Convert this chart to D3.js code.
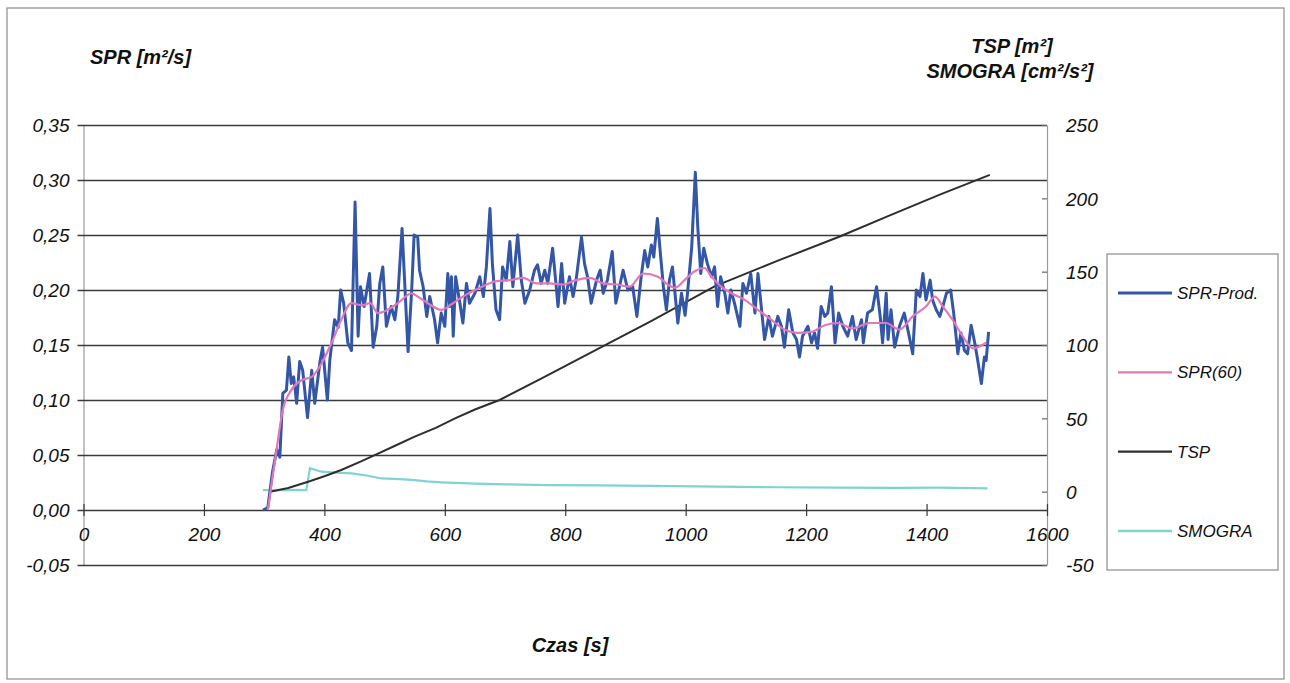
<!DOCTYPE html>
<html>
<head>
<meta charset="utf-8">
<script src="https://cdn.jsdelivr.net/npm/d3@7"></script>
<style>
  body { margin: 0; background: #fff; }
  svg text { font-family: "Liberation Sans", Arial, sans-serif; font-style: italic; fill: #111; }
</style>
</head>
<body>
<div id="chart-area"></div>
<script>
// SPR-Prod. (time [s], value [m2/s])
var sprTime = [298,306,314,321,326,331,337,341,345,349,354,359,364,372,379,384,393,397,405,409,417,423,427,432,439,445,451,456,460,466,475,481,487,492,497,503,511,517,522,529,534,539,545,549,555,558,564,570,575,583,588,594,600,605,608,611,614,618,625,630,636,641,650,658,664,669,675,679,685,691,696,702,708,713,721,727,733,741,749,754,760,766,771,779,784,788,794,799,807,813,818,827,832,837,843,852,858,863,870,878,884,890,896,904,912,919,926,932,937,943,947,953,958,963,968,973,978,987,993,999,1003,1010,1016,1020,1025,1030,1036,1043,1048,1053,1058,1065,1070,1075,1081,1090,1095,1101,1108,1115,1120,1126,1131,1138,1144,1153,1159,1164,1171,1178,1184,1189,1194,1203,1209,1214,1219,1225,1231,1236,1242,1248,1254,1261,1269,1277,1283,1292,1295,1302,1310,1317,1323,1327,1333,1336,1341,1347,1355,1363,1370,1377,1383,1389,1394,1399,1406,1410,1416,1422,1427,1433,1440,1445,1452,1457,1463,1468,1474,1480,1485,1491,1496,1499,1503];
var sprValue = [0.000,0.002,0.035,0.055,0.048,0.106,0.109,0.139,0.115,0.121,0.097,0.135,0.127,0.084,0.127,0.097,0.136,0.148,0.100,0.136,0.173,0.166,0.200,0.188,0.152,0.145,0.280,0.158,0.203,0.185,0.215,0.148,0.167,0.206,0.221,0.167,0.185,0.173,0.194,0.256,0.200,0.144,0.200,0.250,0.248,0.218,0.203,0.176,0.194,0.173,0.152,0.179,0.167,0.215,0.185,0.212,0.158,0.212,0.188,0.170,0.206,0.188,0.197,0.212,0.194,0.221,0.274,0.224,0.182,0.173,0.221,0.209,0.244,0.203,0.250,0.209,0.188,0.200,0.218,0.223,0.206,0.218,0.206,0.238,0.209,0.185,0.224,0.188,0.212,0.194,0.209,0.248,0.224,0.212,0.188,0.209,0.218,0.197,0.209,0.235,0.188,0.203,0.218,0.200,0.203,0.176,0.212,0.236,0.221,0.241,0.230,0.265,0.233,0.203,0.182,0.209,0.221,0.170,0.197,0.177,0.197,0.239,0.307,0.258,0.215,0.238,0.224,0.212,0.221,0.185,0.212,0.197,0.179,0.200,0.188,0.167,0.206,0.197,0.215,0.179,0.215,0.182,0.155,0.176,0.158,0.176,0.167,0.148,0.182,0.161,0.155,0.139,0.158,0.167,0.152,0.161,0.147,0.185,0.176,0.179,0.203,0.152,0.179,0.167,0.158,0.176,0.155,0.173,0.152,0.179,0.182,0.203,0.176,0.152,0.197,0.155,0.182,0.148,0.167,0.179,0.161,0.142,0.200,0.194,0.215,0.191,0.209,0.191,0.182,0.176,0.185,0.197,0.200,0.179,0.142,0.161,0.145,0.142,0.168,0.152,0.136,0.115,0.139,0.136,0.162];

// SPR(60)
var avgTime = [306,318,331,345,362,379,395,412,428,445,462,476,489,505,522,545,555,572,594,611,630,658,686,708,730,752,774,796,818,841,863,885,907,929,954,970,982,998,1015,1031,1043,1059,1076,1098,1120,1142,1164,1186,1209,1231,1253,1277,1305,1333,1355,1377,1399,1414,1427,1443,1460,1477,1499];
var avgValue = [0.000,0.045,0.091,0.109,0.118,0.121,0.133,0.152,0.173,0.188,0.186,0.188,0.179,0.182,0.188,0.197,0.194,0.188,0.182,0.187,0.194,0.202,0.208,0.209,0.211,0.206,0.206,0.205,0.209,0.211,0.206,0.205,0.203,0.215,0.212,0.205,0.202,0.209,0.217,0.220,0.212,0.203,0.197,0.191,0.182,0.173,0.164,0.161,0.162,0.168,0.170,0.165,0.170,0.170,0.164,0.176,0.185,0.194,0.185,0.173,0.158,0.147,0.152];

// TSP [m2]
var tspTime = [310,340,373,400,428,460,489,520,550,585,617,650,691,760,871,941,1048,1150,1256,1340,1422,1505];
var tspValue = [0,2.5,6.8,10.5,14.8,20.5,26,31.8,37.5,43.5,50,56,62.5,77,101,116,140,157,174,188.5,202.5,216];

// SMOGRA [cm2/s2]
var smogTime = [298,340,370,376,395,420,445,470,495,525,545,570,594,650,700,774,857,940,1050,1150,1250,1350,1420,1501];
var smogValue = [1,1.2,1,16,13.6,13,12.5,11,9,8.5,8,7,6.4,5.5,5,4.5,4.3,3.9,3.5,3,2.8,2.6,2.7,2.3];

var xTicks = [0,200,400,600,800,1000,1200,1400,1600];
var leftTicks = [-0.05,0,0.05,0.10,0.15,0.20,0.25,0.30,0.35];
var rightTicks = [-50,0,50,100,150,200,250];

var seriesNames = ["SPR-Prod.","SPR(60)","TSP","SMOGRA"];
var seriesColors = ["#3456a6","#e277b9","#2e2e2e","#7fd3d3"];

var width = 1290, height = 683;
var plot = {left: 83.5, right: 1047, top: 125, bottom: 565};

var svg = d3.select("#chart-area").append("svg")
    .attr("width", width)
    .attr("height", height);

svg.append("rect")
    .attr("x", 7).attr("y", 8)
    .attr("width", 1277).attr("height", 671)
    .attr("fill", "none")
    .attr("stroke", "#8c8c8c")
    .attr("stroke-width", 1.2);

var x = d3.scaleLinear().domain([0,1600]).range([plot.left, plot.right]);
var yL = d3.scaleLinear().domain([-0.05,0.35]).range([plot.bottom, plot.top]);
var yR = d3.scaleLinear().domain([-50,250]).range([plot.bottom, plot.top]);

var comma = (d) => { return d.toFixed(2).replace(".", ","); };
var plain = (d) => { return String(d); };

// left axis + horizontal gridlines
var leftAxis = d3.axisLeft(yL)
    .tickValues(leftTicks)
    .tickFormat(comma)
    .tickSizeInner(-(plot.right - plot.left))
    .tickSizeOuter(0)
    .tickPadding(14);
var gl = svg.append("g")
    .attr("class","left axis")
    .attr("transform","translate(" + plot.left + ",0)")
    .call(leftAxis);
gl.select(".domain").attr("stroke","#9a9a9a").attr("stroke-width",1.2);
gl.selectAll(".tick line")
    .attr("x1", -6)
    .attr("stroke","#3a3a3a")
    .attr("stroke-width",1.3);
gl.selectAll(".tick text")
    .attr("font-size","19px")
    .attr("fill","#111")
    .attr("dy","0.36em");

// right axis
var rightAxis = d3.axisRight(yR)
    .tickValues(rightTicks)
    .tickFormat(plain)
    .tickSizeInner(5)
    .tickSizeOuter(0)
    .tickPadding(14);
var gr = svg.append("g")
    .attr("class","right axis")
    .attr("transform","translate(" + plot.right + ",0)")
    .call(rightAxis);
gr.select(".domain").attr("stroke","#9a9a9a").attr("stroke-width",1.2);
gr.selectAll(".tick line").attr("x1",-5).attr("x2",0).attr("stroke","#666").attr("stroke-width",1.2);
gr.selectAll(".tick text")
    .attr("font-size","19px")
    .attr("fill","#111")
    .attr("dy","0.36em");

// x axis on zero line
var bottomAxis = d3.axisBottom(x)
    .tickValues(xTicks)
    .tickFormat(plain)
    .tickSizeInner(6)
    .tickSizeOuter(0)
    .tickPadding(12);
var gx = svg.append("g")
    .attr("class","bottom axis")
    .attr("transform","translate(0," + yL(0) + ")")
    .call(bottomAxis);
gx.select(".domain").remove();
gx.selectAll(".tick line").attr("y1",-6).attr("stroke","#3a3a3a").attr("stroke-width",1.2);
gx.selectAll(".tick text")
    .attr("font-size","19px")
    .attr("fill","#111");

// series
var pts = (ts, vs) => ts.map((t,i) => [t, vs[i]]);

var lineL = d3.line().x((d) => x(d[0])).y((d) => yL(d[1]));
var lineR = d3.line().x((d) => x(d[0])).y((d) => yR(d[1]));

svg.append("path")
    .datum(pts(smogTime, smogValue))
    .attr("d", lineR)
    .attr("fill","none")
    .attr("stroke", seriesColors[3])
    .attr("stroke-width", 2.2);

svg.append("path")
    .datum(pts(tspTime, tspValue))
    .attr("d", lineR)
    .attr("fill","none")
    .attr("stroke", seriesColors[2])
    .attr("stroke-width", 2);

svg.append("path")
    .datum(pts(sprTime, sprValue))
    .attr("d", lineL)
    .attr("fill","none")
    .attr("stroke", seriesColors[0])
    .attr("stroke-width", 3)
    .attr("stroke-linejoin","round");

svg.append("path")
    .datum(pts(avgTime, avgValue))
    .attr("d", lineL.curve(d3.curveMonotoneX))
    .attr("fill","none")
    .attr("stroke", seriesColors[1])
    .attr("stroke-width", 2.2);

// axis titles
svg.append("text")
    .attr("x", 90).attr("y", 64)
    .attr("font-size","20px")
    .attr("font-weight","bold")
    .text("SPR [m²/s]");

svg.append("text")
    .attr("x", 1012).attr("y", 53)
    .attr("text-anchor","middle")
    .attr("font-size","20px")
    .attr("font-weight","bold")
    .text("TSP [m²]");

svg.append("text")
    .attr("x", 1010).attr("y", 78)
    .attr("text-anchor","middle")
    .attr("font-size","20px")
    .attr("font-weight","bold")
    .text("SMOGRA [cm²/s²]");

svg.append("text")
    .attr("class","x axis-label")
    .attr("x", 570).attr("y", 652)
    .attr("text-anchor","middle")
    .attr("font-size","20px")
    .attr("font-weight","bold")
    .text("Czas [s]");

// legend
var lg = svg.append("g").attr("class","legend");
lg.append("rect")
    .attr("x", 1107).attr("y", 254)
    .attr("width", 171).attr("height", 316)
    .attr("fill","#fff")
    .attr("stroke","#8c8c8c")
    .attr("stroke-width",1.2);

var legendY = d3.scalePoint().domain(seriesNames).range([293, 531]);

seriesNames.forEach((name, i) => {
    lg.append("line")
        .attr("x1", 1118).attr("x2", 1172)
        .attr("y1", legendY(name)).attr("y2", legendY(name))
        .attr("stroke", seriesColors[i])
        .attr("stroke-width", i == 0 ? 3 : 2.4);
    lg.append("text")
        .attr("x", 1177).attr("y", legendY(name))
        .attr("dy","0.36em")
        .attr("font-size","17px")
        .text(name);
});
</script>
</body>
</html>
